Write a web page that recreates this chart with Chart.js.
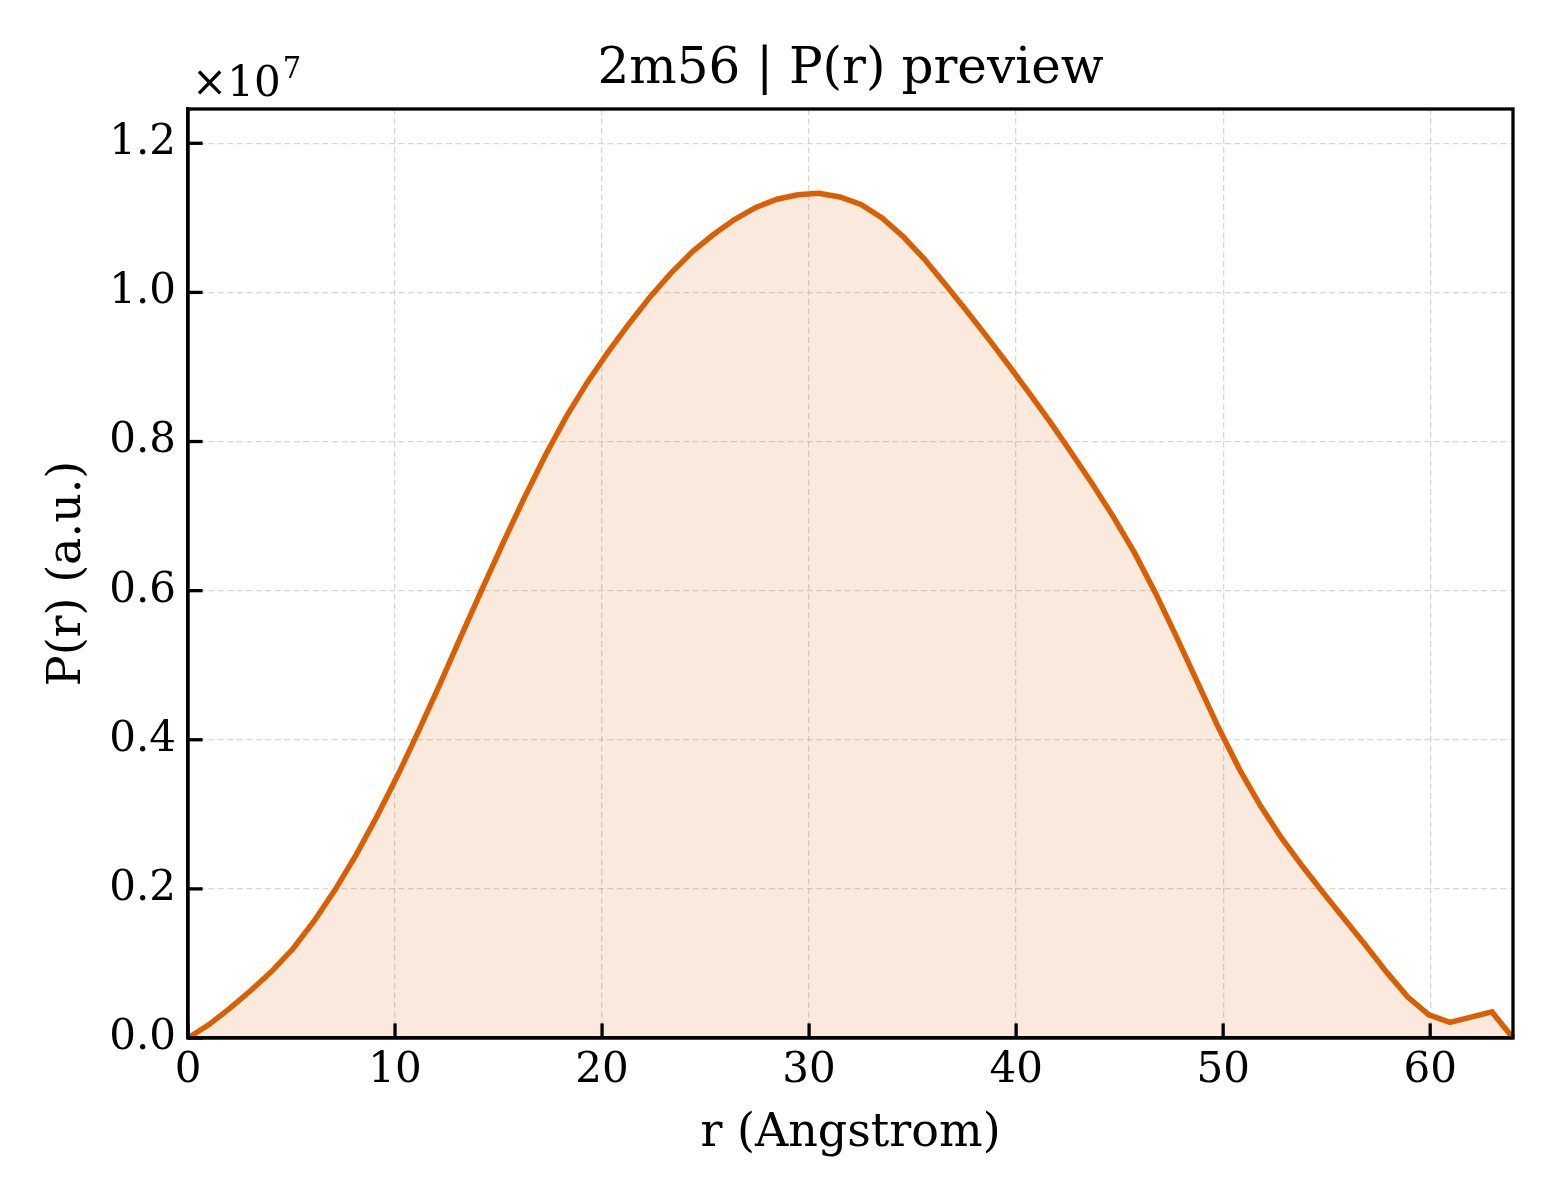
<!DOCTYPE html>
<html>
<head>
<meta charset="utf-8">
<script src="https://cdn.jsdelivr.net/npm/chart.js@4.4.1/dist/chart.umd.min.js"></script>
<style>
  html, body { margin: 0; padding: 0; background: #ffffff; }
  #wrap { width: 1560px; height: 1200px; }
</style>
</head>
<body>
<div id="wrap"><canvas id="c" width="1560" height="1200"></canvas></div>
<script>
// r values (Angstrom)
const rValues = [
  0, 1.016, 2.032, 3.048, 4.063, 5.079, 6.095, 7.111, 8.127, 9.143,
  10.159, 11.175, 12.190, 13.206, 14.222, 15.238, 16.254, 17.270, 18.286, 19.302,
  20.317, 21.333, 22.349, 23.365, 24.381, 25.397, 26.413, 27.429, 28.444, 29.460,
  30.476, 31.492, 32.508, 33.524, 34.540, 35.556, 36.571, 37.587, 38.603, 39.619,
  40.635, 41.651, 42.667, 43.683, 44.698, 45.714, 46.730, 47.746, 48.762, 49.778,
  50.794, 51.810, 52.825, 53.841, 54.857, 55.873, 56.889, 57.905, 58.921, 59.937,
  60.952, 61.968, 62.984, 64.0
];
// P(r) in units of 1e7 (a.u.)
const prValues = [
  0.000, 0.018, 0.040, 0.064, 0.090, 0.120, 0.157, 0.199, 0.246, 0.298,
  0.354, 0.414, 0.476, 0.540, 0.603, 0.665, 0.725, 0.782, 0.834, 0.880,
  0.921, 0.959, 0.995, 1.027, 1.055, 1.078, 1.098, 1.114, 1.125, 1.131,
  1.133, 1.128, 1.118, 1.100, 1.075, 1.045, 1.011, 0.976, 0.940, 0.903,
  0.865, 0.826, 0.785, 0.743, 0.699, 0.651, 0.597, 0.538, 0.477, 0.416,
  0.360, 0.311, 0.268, 0.230, 0.194, 0.159, 0.124, 0.088, 0.055, 0.031,
  0.021, 0.028, 0.035, 0.000
];
const offsetExponent = 7;
const xTicks = [0, 10, 20, 30, 40, 50, 60];
const yTicks = [0.0, 0.2, 0.4, 0.6, 0.8, 1.0, 1.2];
const titleText = '2m56 | P(r) preview';
const xLabel = 'r (Angstrom)';
const yLabel = 'P(r) (a.u.)';

const FONT = "'DejaVu Serif', 'Liberation Serif', serif";
const LINE_COLOR = '#d95f02';

const points = rValues.map((r, i) => ({ x: r, y: prValues[i] }));

const framePlugin = {
  id: 'frame',
  afterDatasetsDraw(chart) {
    const { ctx, chartArea: a, scales } = chart;
    ctx.save();
    ctx.strokeStyle = '#000';
    ctx.lineWidth = 3.3;
    ctx.lineCap = 'butt';
    // inward ticks
    const tl = 14.6;
    scales.x.ticks.forEach(t => {
      const px = scales.x.getPixelForValue(t.value);
      ctx.beginPath(); ctx.moveTo(px, a.bottom); ctx.lineTo(px, a.bottom - tl); ctx.stroke();
    });
    scales.y.ticks.forEach(t => {
      const py = scales.y.getPixelForValue(t.value);
      ctx.beginPath(); ctx.moveTo(a.left, py); ctx.lineTo(a.left + tl, py); ctx.stroke();
    });
    // full frame
    ctx.lineJoin = 'miter';
    ctx.strokeRect(a.left, a.top, a.right - a.left, a.bottom - a.top);
    // offset text
    ctx.fillStyle = '#000';
    ctx.textBaseline = 'alphabetic';
    ctx.textAlign = 'left';
    ctx.font = `42px ${FONT}`;
    const base = '\u00d710';
    ctx.fillText(base, a.left + 4, a.top - 13);
    const w = ctx.measureText(base).width;
    ctx.font = `29px ${FONT}`;
    ctx.fillText(String(offsetExponent), a.left + 6 + w, a.top - 31);
    ctx.restore();
  }
};

new Chart(document.getElementById('c'), {
  type: 'line',
  data: {
    datasets: [{
      data: points,
      borderColor: LINE_COLOR,
      borderWidth: 5.5,
      backgroundColor: 'rgba(217,95,2,0.13)',
      fill: 'origin',
      pointRadius: 0,
      tension: 0,
      clip: 4
    }]
  },
  options: {
    responsive: false,
    animation: false,
    devicePixelRatio: 1,
    layout: { padding: { left: 0, right: 47, top: 0, bottom: 0 } },
    plugins: {
      legend: { display: false },
      tooltip: { enabled: false },
      title: {
        display: true,
        fullSize: false,
        text: titleText,
        color: '#000',
        font: { family: FONT, size: 50, weight: 'normal', lineHeight: 1.2 },
        padding: { top: 40, bottom: 9 }
      }
    },
    scales: {
      x: {
        type: 'linear',
        min: 0,
        max: 64,
        afterFit(scale) { scale.height = 162; },
        afterBuildTicks(scale) { scale.ticks = xTicks.map(v => ({ value: v })); },
        ticks: {
          color: '#000',
          font: { family: FONT, size: 42 },
          padding: 8,
          maxRotation: 0,
          callback: v => String(v)
        },
        grid: {
          color: 'rgba(176,176,176,0.5)',
          lineWidth: 1.3,
          drawTicks: false
        },
        border: { display: true, color: '#000', width: 3.3, dash: [6, 3.5] },
        title: {
          display: true,
          text: xLabel,
          color: '#000',
          font: { family: FONT, size: 46, lineHeight: 1.2 },
          padding: { top: 0, bottom: 38 }
        }
      },
      y: {
        type: 'linear',
        min: 0,
        max: 1.246,
        afterFit(scale) { scale.width = 188; },
        afterBuildTicks(scale) { scale.ticks = yTicks.map(v => ({ value: v })); },
        ticks: {
          color: '#000',
          font: { family: FONT, size: 42 },
          padding: 12,
          callback: v => v.toFixed(1)
        },
        grid: {
          color: 'rgba(176,176,176,0.5)',
          lineWidth: 1.3,
          drawTicks: false
        },
        border: { display: true, color: '#000', width: 3.3, dash: [6, 3.5] },
        title: {
          display: true,
          text: yLabel,
          color: '#000',
          font: { family: FONT, size: 46, lineHeight: 1.2 },
          padding: { top: 40, bottom: 0 }
        }
      }
    }
  },
  plugins: [framePlugin]
});
</script>
</body>
</html>
